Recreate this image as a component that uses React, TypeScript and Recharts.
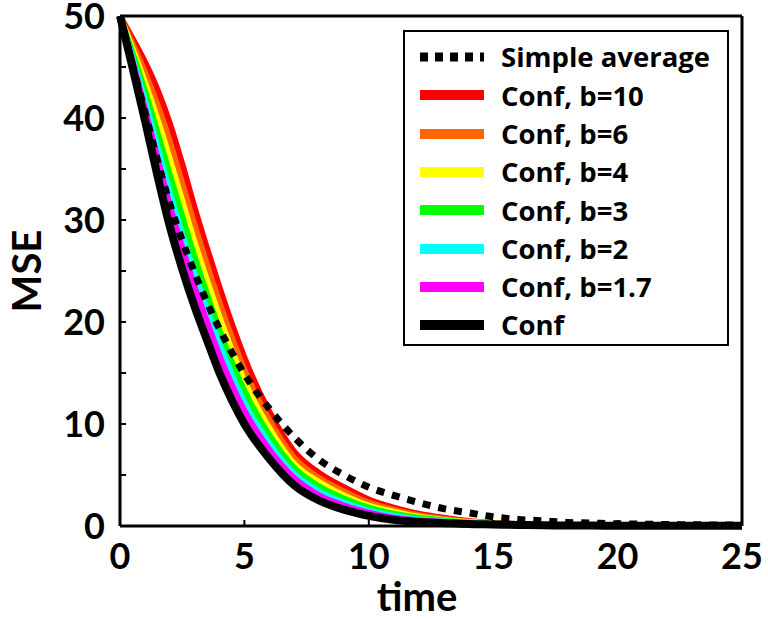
import React from "react";
import { LineChart, Line, XAxis, YAxis } from "recharts";

const times = [0, 0.5, 1, 1.5, 2, 2.5, 3, 3.5, 4, 4.5, 5, 6, 7, 8, 9, 10, 11, 12, 13, 14, 15, 16, 17, 18, 19, 20, 21, 22, 23, 24, 25];

const simpleAvg = [50, 45.2, 40.6, 35.9, 31.6, 28.0, 24.8, 21.9, 19.3, 17.0, 14.9, 11.5, 8.7, 6.5, 5.0, 3.8, 3.0, 2.3, 1.7, 1.3, 0.9, 0.65, 0.5, 0.35, 0.28, 0.22, 0.18, 0.15, 0.12, 0.1, 0.1];
const confB10 = [50, 47.8, 45.5, 42.8, 39.5, 35.5, 31.2, 27.2, 23.4, 19.8, 16.5, 11.2, 7.3, 5.2, 3.8, 2.6, 1.8, 1.2, 0.8, 0.5, 0.3, 0.2, 0.12, 0.08, 0.05, 0.04, 0.03, 0.02, 0.02, 0.02, 0.02];
const confB6 = [50, 47.3, 44.5, 41.3, 37.7, 33.6, 29.5, 25.6, 21.9, 18.45, 15.3, 10.4, 6.7, 4.7, 3.4, 2.3, 1.6, 1.05, 0.7, 0.45, 0.28, 0.18, 0.11, 0.07, 0.05, 0.04, 0.03, 0.02, 0.02, 0.02, 0.02];
const confB4 = [50, 46.8, 43.5, 39.9, 36.0, 31.9, 27.8, 24.05, 20.5, 17.2, 14.2, 9.6, 6.1, 4.3, 3.0, 2.0, 1.4, 0.9, 0.6, 0.4, 0.25, 0.16, 0.1, 0.07, 0.05, 0.04, 0.03, 0.02, 0.02, 0.02, 0.02];
const confB3 = [50, 46.4, 42.65, 38.6, 34.45, 30.35, 26.35, 22.7, 19.2, 16.05, 13.25, 8.9, 5.7, 3.9, 2.7, 1.8, 1.2, 0.8, 0.55, 0.35, 0.22, 0.15, 0.1, 0.06, 0.05, 0.04, 0.03, 0.02, 0.02, 0.02, 0.02];
const confB2 = [50, 45.9, 41.7, 37.2, 32.7, 28.6, 24.7, 21.2, 17.8, 14.8, 12.1, 8.1, 5.1, 3.4, 2.3, 1.5, 1.0, 0.65, 0.45, 0.3, 0.2, 0.13, 0.08, 0.05, 0.04, 0.03, 0.02, 0.02, 0.02, 0.02, 0.02];
const confB17 = [50, 45.6, 40.9, 36.1, 31.4, 27.3, 23.4, 20.0, 16.7, 13.8, 11.3, 7.5, 4.7, 3.0, 2.0, 1.3, 0.8, 0.55, 0.4, 0.25, 0.18, 0.12, 0.07, 0.05, 0.04, 0.03, 0.02, 0.02, 0.02, 0.02, 0.02];
const conf = [50, 45, 39.8, 34.4, 29.4, 25.2, 21.5, 18.2, 15.0, 12.3, 10.0, 6.6, 4.0, 2.5, 1.6, 1.0, 0.6, 0.4, 0.3, 0.2, 0.15, 0.1, 0.07, 0.05, 0.04, 0.03, 0.02, 0.02, 0.02, 0.02, 0.02];

const xTicks = [0, 5, 10, 15, 20, 25];
const yTicks = [0, 5, 10, 15, 20, 25, 30, 35, 40, 45, 50];

const seriesList = [
  { key: "b10", name: "Conf, b=10", color: "#ff0000", values: confB10 },
  { key: "b6", name: "Conf, b=6", color: "#ff6600", values: confB6 },
  { key: "b4", name: "Conf, b=4", color: "#ffff00", values: confB4 },
  { key: "b3", name: "Conf, b=3", color: "#00ff00", values: confB3 },
  { key: "b2", name: "Conf, b=2", color: "#00ffff", values: confB2 },
  { key: "b17", name: "Conf, b=1.7", color: "#ff00ff", values: confB17 },
  { key: "conf", name: "Conf", color: "#000000", values: conf },
];

const data = times.map((t, i) => {
  const row: any = { t, avg: simpleAvg[i] };
  seriesList.forEach((s) => (row[s.key] = s.values[i]));
  return row;
});

const FONT = "Lato, 'Open Sans', sans-serif";
const tickStyle = { fill: "#000", fontSize: 36, fontWeight: 700, fontFamily: FONT };

function LegendBox() {
  const rows = [{ name: "Simple average", color: "#000", dotted: true }, ...seriesList.map((s) => ({ name: s.name, color: s.color, dotted: false }))];
  return (
    <div
      style={{
        position: "absolute", left: 403, top: 30, width: 326, height: 316,
        border: "2px solid #000", background: "#fff", boxSizing: "border-box", paddingTop: 6,
        fontFamily: "'Open Sans', sans-serif",
      }}
    >
      {rows.map((r) => (
        <div key={r.name} style={{ display: "flex", alignItems: "center", height: 38.3 }}>
          <svg width={96} height={14} style={{ marginLeft: 14 }}>
            {r.dotted ? (
              <line x1={1} y1={7} x2={65} y2={7} stroke="#000" strokeWidth={9} strokeDasharray="8 7" />
            ) : (
              <line x1={1} y1={7} x2={65} y2={7} stroke={r.color} strokeWidth={10} />
            )}
          </svg>
          <span style={{ fontSize: 27.5, fontWeight: 700, color: "#000", marginLeft: -14, lineHeight: 1 }}>{r.name}</span>
        </div>
      ))}
    </div>
  );
}

export default function App() {
  return (
    <div style={{ position: "absolute", left: 0, top: 0, width: 768, height: 619, background: "#fff" }}>
      <LineChart width={768} height={619} data={data} margin={{ top: 15, right: 25, bottom: 0, left: 0 }}>
        <XAxis
          dataKey="t"
          type="number"
          domain={[0, 25]}
          ticks={xTicks}
          height={93}
          tickSize={-6}
          tickMargin={23}
          axisLine={{ stroke: "#000", strokeWidth: 3 }}
          tickLine={{ stroke: "#000", strokeWidth: 2 }}
          tick={tickStyle}
          label={{ value: "time", position: "insideBottom", offset: 8, dx: -14, style: { ...tickStyle, fontSize: 40 } }}
        />
        <XAxis
          xAxisId="top"
          orientation="top"
          dataKey="t"
          type="number"
          domain={[0, 25]}
          ticks={xTicks}
          height={1}
          tickSize={-6}
          tick={false}
          axisLine={{ stroke: "#000", strokeWidth: 3 }}
          tickLine={{ stroke: "#000", strokeWidth: 2 }}
        />
        <YAxis
          type="number"
          domain={[0, 50]}
          ticks={yTicks}
          width={120}
          tickSize={-6}
          tickMargin={21}
          interval={0}
          tickFormatter={(v: number) => (v % 10 === 0 ? String(v) : "")}
          axisLine={{ stroke: "#000", strokeWidth: 3 }}
          tickLine={{ stroke: "#000", strokeWidth: 2 }}
          tick={tickStyle}
          label={{ value: "MSE", angle: -90, position: "insideLeft", offset: 27, style: { ...tickStyle, fontSize: 40, textAnchor: "middle" } }}
        />
        <YAxis
          yAxisId="right"
          orientation="right"
          type="number"
          domain={[0, 50]}
          ticks={yTicks}
          width={1}
          tickSize={-6}
          tick={false}
          axisLine={{ stroke: "#000", strokeWidth: 3 }}
          tickLine={{ stroke: "#000", strokeWidth: 2 }}
        />
        {seriesList.map((s) => (
          <Line
            key={s.key}
            type="monotone"
            dataKey={s.key}
            name={s.name}
            stroke={s.color}
            strokeWidth={s.key === "conf" ? 8 : 6}
            dot={false}
            isAnimationActive={false}
          />
        ))}
        <Line
          type="monotone"
          dataKey="avg"
          name="Simple average"
          stroke="#000"
          strokeWidth={7}
          strokeDasharray="8 8"
          dot={false}
          isAnimationActive={false}
        />
      </LineChart>
      <LegendBox />
    </div>
  );
}
